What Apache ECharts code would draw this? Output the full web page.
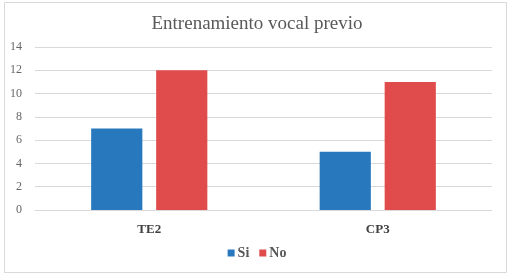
<!DOCTYPE html>
<html>
<head>
<meta charset="utf-8">
<script src="https://cdn.jsdelivr.net/npm/echarts@6/dist/echarts.min.js"></script>
<style>
  html, body { margin: 0; padding: 0; background: #fff; }
  #main { width: 514px; height: 279px; }
</style>
</head>
<body>
<div id="main"></div>
<script>
// datos del gráfico
var categories = ["TE2", "CP3"];
var siValues = [7, 5];
var noValues = [12, 11];
var seriesNames = ["Si", "No"];

var chart = echarts.init(document.getElementById("main"));
var serif = "Liberation Serif";

var option = {
  animation: false,
  graphic: [
    {
      type: "rect",
      shape: { x: 4.5, y: 2.5, width: 502, height: 270 },
      style: { fill: "none", stroke: "#d9d9d9", lineWidth: 1 }
    }
  ],
  title: {
    text: "Entrenamiento vocal previo",
    left: "center",
    top: 10,
    textStyle: {
      fontFamily: serif,
      fontWeight: "normal",
      fontSize: 19,
      color: "#595959"
    }
  },
  legend: {
    data: seriesNames,
    bottom: 14,
    left: "center",
    itemWidth: 7,
    itemHeight: 7,
    itemGap: 10,
    icon: "rect",
    textStyle: {
      fontFamily: serif,
      fontWeight: "bold",
      fontSize: 14,
      color: "#595959",
      padding: [0, 0, 0, -2]
    }
  },
  grid: {
    left: 35,
    right: 22,
    top: 47,
    bottom: 69
  },
  xAxis: {
    type: "category",
    data: categories,
    axisLine: { lineStyle: { color: "#d9d9d9", width: 1 } },
    axisTick: { show: false },
    axisLabel: {
      fontFamily: serif,
      fontWeight: "bold",
      fontSize: 13,
      color: "#404040",
      margin: 13
    }
  },
  yAxis: {
    type: "value",
    min: 0,
    max: 14,
    interval: 2,
    axisLine: { show: false },
    axisTick: { show: false },
    splitLine: { lineStyle: { color: "#d9d9d9", width: 1 } },
    axisLabel: {
      fontFamily: serif,
      fontSize: 12,
      color: "#666666",
      margin: 13
    }
  },
  series: [
    {
      name: seriesNames[0],
      type: "bar",
      data: siValues,
      barWidth: "22.4%",
      barGap: "27%",
      itemStyle: { color: "#2878bd" }
    },
    {
      name: seriesNames[1],
      type: "bar",
      data: noValues,
      barWidth: "22.4%",
      barGap: "27%",
      itemStyle: { color: "#e04b4c" }
    }
  ]
};

chart.setOption(option);
</script>
</body>
</html>
